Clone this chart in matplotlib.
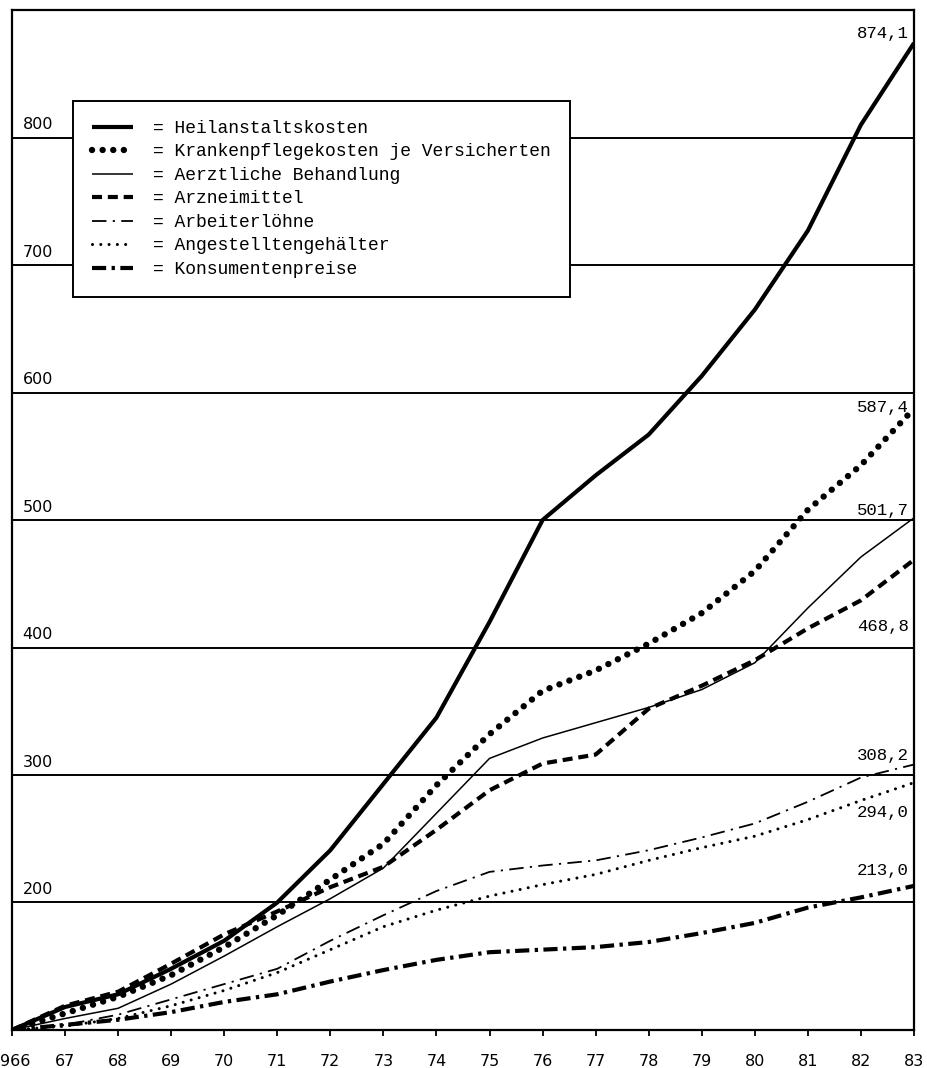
import numpy as np
import matplotlib
matplotlib.use("Agg")
import matplotlib.pyplot as plt
from matplotlib.transforms import ScaledTranslation

years = np.arange(1966, 1984)

heilanstalt = [100, 118, 128, 148, 170, 200, 241, 293, 345, 420, 500, 535, 567, 613, 665, 727, 810, 874.1]
krankenpflege = [100, 113, 126, 143, 165, 190, 218, 246, 292, 332, 366, 382, 403, 427, 460, 508, 543, 587.4]
aerztlich = [100, 109, 117, 136, 158, 181, 203, 227, 270, 313, 329, 341, 353, 367, 388, 431, 471, 501.7]
arznei = [100, 119, 130, 152, 175, 193, 212, 228, 257, 288, 309, 316, 352, 370, 390, 415, 437, 468.8]
arbeiter = [100, 104, 112, 124, 136, 148, 170, 190, 209, 224, 229, 233, 241, 251, 262, 279, 298, 308.2]
angestellte = [100, 103, 109, 119, 131, 145, 163, 181, 194, 205, 214, 222, 233, 243, 252, 265, 280, 294.0]
konsum = [100, 104, 108, 114, 122, 128, 138, 147, 155, 161, 163, 165, 169, 176, 184, 196, 204, 213.0]

labels = ["Heilanstaltskosten", "Krankenpflegekosten je Versicherten",
          "Aerztliche Behandlung", "Arzneimittel", "Arbeiterlöhne",
          "Angestelltengehälter", "Konsumentenpreise"]
end_labels = ["874,1", "587,4", "501,7", "468,8", "308,2", "294,0", "213,0"]
grid_values = [200, 300, 400, 500, 600, 700, 800]
# the first year label is cut at the page edge in the original: only "966" shows
tick_labels = ["966"] + [str(y)[2:] for y in range(1967, 1984)]

series = [heilanstalt, krankenpflege, aerztlich, arznei, arbeiter, angestellte, konsum]

# line styles (width in pt, dash pattern in units of line width)
styles = [
    dict(lw=3.0, ls="-"),
    dict(lw=4.6, ls=(0, (0.01, 1.65)), dash_capstyle="round"),
    dict(lw=1.1, ls="-"),
    dict(lw=3.0, ls=(0, (2.4, 1.4))),
    dict(lw=1.3, ls=(0, (8, 3.5, 1.2, 3.5))),
    dict(lw=2.2, ls=(0, (0.01, 2.7)), dash_capstyle="round"),
    dict(lw=3.0, ls=(0, (3.4, 1.3, 0.8, 1.3))),
]
# vertical offset of the end value labels
label_dy = [2, -5, 0, -58, 1, -29, 6]

fig = plt.figure(figsize=(9.28, 10.68), dpi=100)
ax = fig.add_axes([0.0129, 0.0356, 0.9720, 0.9550])

for v in grid_values:
    ax.axhline(v, color="black", lw=1.4, zorder=1)
    ax.text(1966.2, v + 4, str(v), fontsize=11.5, ha="left", va="bottom",
            family="DejaVu Sans")

handles = []
for vals, st, lab in zip(series, styles, labels):
    h, = ax.plot(years, vals, color="black", label="= " + lab, zorder=3,
                 solid_capstyle="butt", **st)
    handles.append(h)

for vals, txt, dy in zip(series, end_labels, label_dy):
    ax.text(1982.9, vals[-1] + dy, txt, ha="right", va="bottom",
            fontsize=12.5, family="Liberation Mono")

ax.set_xlim(1966, 1983)
ax.set_ylim(100, 900)
ax.set_yticks([])
ax.set_xticks(years)
ax.set_xticklabels(tick_labels, fontsize=11.5, family="DejaVu Sans")
ax.tick_params(axis="x", direction="out", length=4, width=1.3, pad=13)
first = ax.get_xticklabels()[0]
first.set_transform(first.get_transform() + ScaledTranslation(0.035, 0, fig.dpi_scale_trans))
for s in ax.spines.values():
    s.set_linewidth(1.6)

leg = ax.legend(handles=handles, loc="upper left",
                bbox_to_anchor=(0.0676, 0.9108), borderaxespad=0,
                prop={"family": "Liberation Mono", "size": 13},
                handlelength=2.3, handletextpad=1.1, labelspacing=0.36,
                borderpad=1.05, fancybox=False, framealpha=1,
                edgecolor="black", facecolor="white")
leg.get_frame().set_linewidth(1.4)
leg.set_zorder(5)

fig.savefig("out.png", dpi=100)
